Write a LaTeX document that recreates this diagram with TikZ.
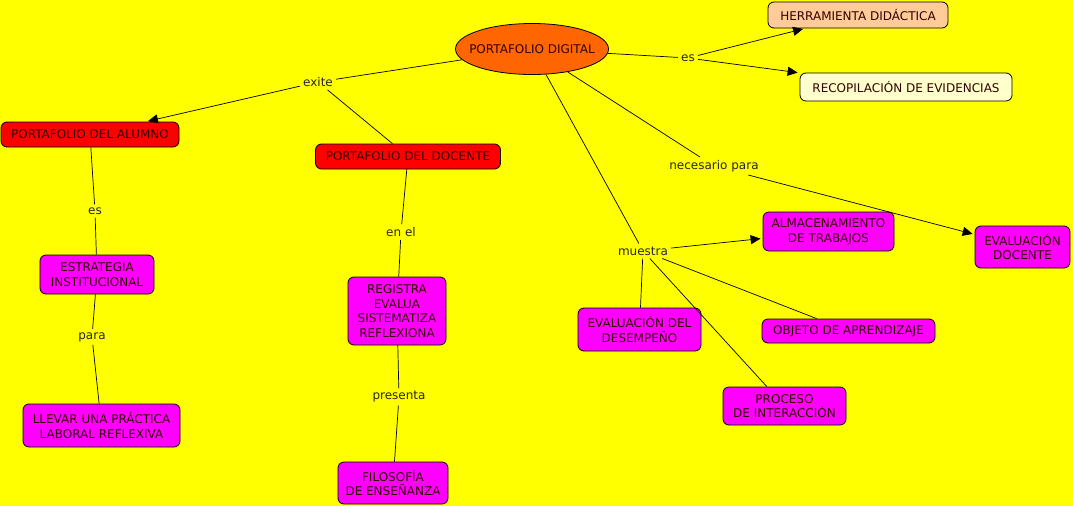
\documentclass[tikz,border=0pt]{standalone}
\usepackage{fontspec}
\setmainfont{DejaVu Sans}
\usetikzlibrary{arrows.meta,shapes.geometric}
\definecolor{bgyellow}{HTML}{FFFF00}
\definecolor{orangefill}{HTML}{FF6600}
\definecolor{redfill}{HTML}{FF0000}
\definecolor{magentafill}{HTML}{FF00FF}
\definecolor{peachfill}{HTML}{FFCC99}
\definecolor{paleyellow}{HTML}{FFFFCC}
\definecolor{darktext}{HTML}{330000}
\begin{document}
\begin{tikzpicture}[x=1pt,y=-1pt,
  concept/.style={draw=black, line width=0.8pt, rounded corners=6pt, align=center,
    font=\fontsize{12}{14.6}\selectfont, text=darktext, inner sep=2pt},
  magbox/.style={concept, fill=magentafill},
  redbox/.style={concept, fill=redfill},
  lbl/.style={font=\fontsize{12}{13}\selectfont, text=black!85, inner sep=3pt},
  link/.style={draw=black, line width=0.7pt},
  arr/.style={link, -{Triangle[length=10pt,width=9pt]}, shorten >=2pt}]
\fill[bgyellow] (0,0) rectangle (1073,506);
\useasboundingbox (0,0) rectangle (1073,506);

% concepts
\node[ellipse, draw=black, line width=0.8pt, fill=orangefill, minimum width=153pt, minimum height=51pt,
  font=\fontsize{12}{13}\selectfont, text=darktext, inner sep=0pt] (pd) at (532,49) {\makebox[0pt]{PORTAFOLIO DIGITAL}};
\node[concept, fill=peachfill, minimum width=180pt, minimum height=26pt] (her) at (858,15) {HERRAMIENTA DIDÁCTICA};
\node[concept, fill=paleyellow, minimum width=212pt, minimum height=28pt] (rec) at (906,87) {RECOPILACIÓN DE EVIDENCIAS};
\node[redbox, minimum width=178pt, minimum height=25pt] (alu) at (90,134.5) {PORTAFOLIO DEL ALUMNO};
\node[redbox, minimum width=185pt, minimum height=25pt] (doc) at (408,156.5) {PORTAFOLIO DEL DOCENTE};
\node[magbox, minimum width=114pt, minimum height=39pt] (est) at (97,274.5) {ESTRATEGIA\\INSTITUCIONAL};
\node[magbox, minimum width=157pt, minimum height=43pt] (lle) at (101.5,425.5) {LLEVAR UNA PRÁCTICA\\LABORAL REFLEXIVA};
\node[magbox, minimum width=98pt, minimum height=68pt] (reg) at (397,311) {REGISTRA\\EVALUA\\SISTEMATIZA\\REFLEXIONA};
\node[magbox, minimum width=110pt, minimum height=42pt] (fil) at (393,483) {FILOSOFÍA\\DE ENSEÑANZA};
\node[magbox, minimum width=131pt, minimum height=39pt] (alm) at (828.5,231.5) {ALMACENAMIENTO\\DE TRABAJOS};
\node[magbox, minimum width=95pt, minimum height=42pt] (evd) at (1022.5,247) {EVALUACIÓN\\DOCENTE};
\node[magbox, minimum width=123pt, minimum height=43pt] (eds) at (639.5,329.5) {EVALUACIÓN DEL\\DESEMPEÑO};
\node[magbox, minimum width=173pt, minimum height=24pt] (obj) at (848.5,331) {OBJETO DE APRENDIZAJE};
\node[magbox, minimum width=123pt, minimum height=38pt] (pro) at (784.5,406) {PROCESO\\DE INTERACCIÓN};

% linking phrases
\node[lbl] (les) at (688,58) {es};
\node[lbl] (lexi) at (318,82) {exite};
\node[lbl] (lnec) at (714,166) {necesario para};
\node[lbl] (lmue) at (643,251) {muestra};
\node[lbl] (les2) at (95,211) {es};
\node[lbl] (lpara) at (92,337) {para};
\node[lbl] (lenel) at (401,232) {en el};
\node[lbl] (lpres) at (399,397) {presenta};

% connectors
\draw[link] (pd) -- (les);
\draw[arr] (les) -- (her);
\draw[arr] (les) -- (rec);
\draw[link] (pd) -- (lexi);
\draw[arr] (lexi) -- (alu);
\draw[link] (lexi) -- (doc);
\draw[link] (alu) -- (les2);
\draw[link] (les2) -- (est);
\draw[link] (est) -- (lpara);
\draw[link] (lpara) -- (lle);
\draw[link] (doc) -- (lenel);
\draw[link] (lenel) -- (reg);
\draw[link] (reg) -- (lpres);
\draw[link] (lpres) -- (fil);
\draw[link] (pd) -- (lnec);
\draw[arr] (lnec) -- (evd);
\draw[link] (pd) -- (lmue);
\draw[arr] (lmue) -- (alm);
\draw[link] (lmue) -- (eds);
\draw[link] (lmue) -- (obj);
\draw[link] (lmue) -- (pro);
\end{tikzpicture}
\end{document}
